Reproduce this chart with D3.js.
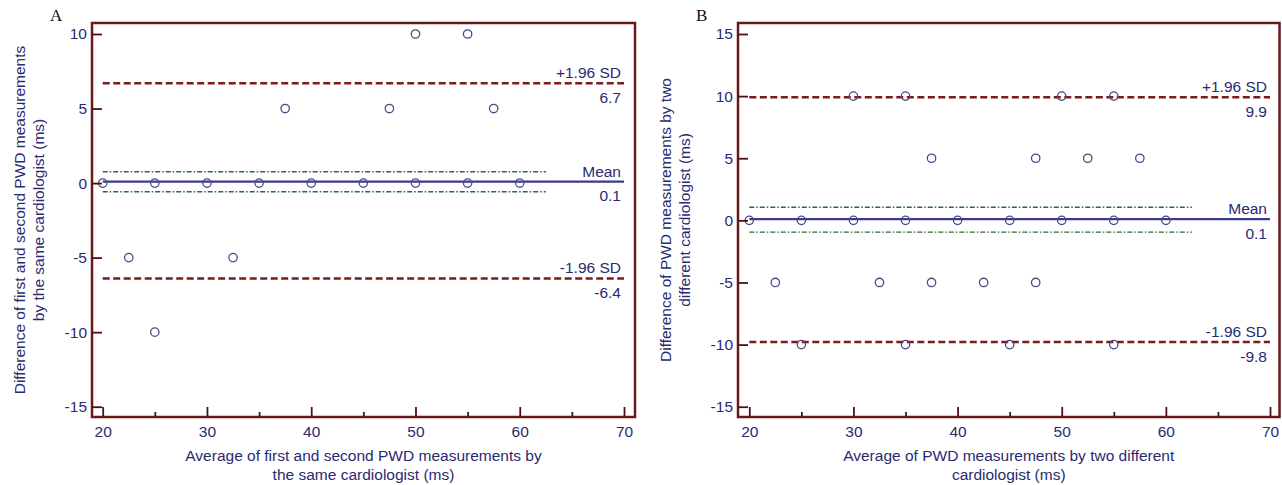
<!DOCTYPE html>
<html><head><meta charset="utf-8">
<script src="https://cdn.jsdelivr.net/npm/d3@7"></script>
<style>body{margin:0;background:#fff}svg{display:block}text{font-family:"Liberation Sans",Arial,sans-serif}</style>
</head><body><svg id="c" width="1282" height="485"></svg>
<script>
// ---- data ----
const xTicks = [20, 30, 40, 50, 60, 70];
const xMinorTicks = [25, 35, 45, 55, 65];
const yTicksA = [10, 5, 0, -5, -10, -15];
const yTicksB = [15, 10, 5, 0, -5, -10, -15];

const meanA = [20, 22.5, 25, 25, 30, 32.5, 35, 37.5, 40, 45, 47.5, 50, 50, 55, 55, 57.5, 60];
const diffA = [0, -5, 0, -10, 0, -5, 0, 5, 0, 0, 5, 10, 0, 10, 0, 5, 0];

const meanB = [20, 22.5, 25, 25, 30, 30, 32.5, 35, 35, 35, 37.5, 37.5, 40, 42.5, 45, 45, 47.5, 47.5, 50, 50, 52.5, 55, 55, 55, 57.5, 60];
const diffB = [0, -5, 0, -10, 0, 10, -5, 0, 10, -10, 5, -5, 0, -5, 0, -10, 5, -5, 0, 10, 5, 0, 10, -10, 5, 0];

const limitNames = ["+1.96 SD", "Mean", "-1.96 SD"];
const limitsA = [6.7, 0.1, -6.4];
const limitsB = [9.9, 0.1, -9.8];
const ciA = [0.76, -0.58];
const ciB = [1.05, -0.95];
const lineSpan = [20, 70];
const ciSpan = [20, 62.5];

const panelLetters = ["A", "B"];
const yTitleA = ["Difference of first and second PWD measurements", "by the same cardiologist (ms)"];
const xTitleA = ["Average of first and second PWD measurements by", "the same cardiologist (ms)"];
const yTitleB = ["Difference of PWD measurements by two", "different cardiologist (ms)"];
const xTitleB = ["Average of PWD measurements by two different", "cardiologist (ms)"];

// ---- drawing ----
const svg = d3.select("#c");
svg.append("rect").attr("width", 1282).attr("height", 485).attr("fill", "#fff");

const NAVY = "#2a2a72";
const FRAME = "#6b1a1a";
const RED = "#7a1c1c";
const BLUE = "#3b3b8e";
const GREEN = "#2f6a2f";
const FS = "15.5px";
const fmtInt = d => String(d);   // plain hyphen minus as in the original

function panel(cfg) {
  const g = svg.append("g");
  const f = cfg.frame;
  const x = d3.scaleLinear().domain([20, 70]).range(cfg.xRange);
  const y = d3.scaleLinear().domain([cfg.yTicks[0], -15]).range([34, 406.7]);

  // panel letter
  g.append("text").attr("x", f.l - 42).attr("y", 21).text(cfg.letter)
    .style("font-family", "'Liberation Serif','Times New Roman',serif").style("font-size", "17px").attr("fill", "#111");

  // limit lines
  const lim = cfg.limits;
  [lim[0], lim[2]].forEach(v => {
    g.append("line").attr("x1", x(lineSpan[0])).attr("x2", x(lineSpan[1]))
      .attr("y1", y(v)).attr("y2", y(v)).attr("stroke", RED).attr("stroke-width", 2.5)
      .attr("stroke-dasharray", "7,3.5");
  });
  cfg.ci.forEach(v => {
    g.append("line").attr("x1", x(ciSpan[0])).attr("x2", x(ciSpan[1]))
      .attr("y1", y(v)).attr("y2", y(v)).attr("stroke", GREEN).attr("stroke-width", 1.4)
      .attr("stroke-dasharray", "5,2,1.5,2");
  });
  g.append("line").attr("x1", x(lineSpan[0])).attr("x2", x(lineSpan[1]))
    .attr("y1", y(lim[1])).attr("y2", y(lim[1])).attr("stroke", BLUE).attr("stroke-width", 2.2);

  // limit labels
  lim.forEach((v, i) => {
    g.append("text").attr("x", x(lineSpan[1]) - 3).attr("y", y(v) - 5)
      .attr("text-anchor", "end").attr("fill", NAVY).style("font-size", FS).text(limitNames[i]);
    g.append("text").attr("x", x(lineSpan[1]) - 3).attr("y", y(v) + 19.5)
      .attr("text-anchor", "end").attr("fill", NAVY).style("font-size", FS).text(v.toFixed(1));
  });

  // points
  g.selectAll("circle.pt").data(cfg.xs.map((d, i) => [d, cfg.ys[i]])).join("circle")
    .attr("class", "pt").attr("cx", d => x(d[0])).attr("cy", d => y(d[1])).attr("r", 4.2)
    .attr("fill", "none").attr("stroke", "#4a4a86").attr("stroke-width", 1.3);

  // frame
  g.append("rect").attr("x", f.l).attr("y", f.t).attr("width", f.r - f.l).attr("height", f.b - f.t)
    .attr("fill", "none").attr("stroke", FRAME).attr("stroke-width", 2.5);

  // axes
  const ay = g.append("g").attr("transform", `translate(${f.l},0)`)
    .call(d3.axisLeft(y).tickValues(cfg.yTicks).tickSize(-10).tickPadding(5).tickFormat(fmtInt));
  const ax = g.append("g").attr("transform", `translate(0,${f.b})`)
    .call(d3.axisBottom(x).tickValues(xTicks).tickSize(-10).tickPadding(9).tickFormat(fmtInt));
  const axm = g.append("g").attr("transform", `translate(0,${f.b})`)
    .call(d3.axisBottom(x).tickValues(xMinorTicks).tickSize(-5).tickFormat(""));
  [ay, ax, axm].forEach(a => {
    a.select(".domain").remove();
    a.selectAll("line").attr("stroke", "#4a1212").attr("stroke-width", 1.8);
    a.selectAll("text").attr("fill", NAVY).style("font-size", FS)
      .style("font-family", "'Liberation Sans',Arial,sans-serif");
  });

  // titles
  const cx = (f.l + f.r) / 2, cy = (f.t + f.b) / 2;
  cfg.xTitle.forEach((t, i) => {
    g.append("text").attr("x", cx).attr("y", 460.5 + i * 19.5).attr("text-anchor", "middle")
      .attr("fill", NAVY).style("font-size", FS).text(t);
  });
  cfg.yTitle.forEach((t, i) => {
    g.append("text").attr("transform", `translate(${f.l - 67 + i * 19},${cy}) rotate(-90)`)
      .attr("text-anchor", "middle").attr("fill", NAVY).style("font-size", FS).text(t);
  });
}

panel({letter: panelLetters[0], frame: {l: 92, t: 23, r: 635, b: 417}, xRange: [102.7, 624],
  yTicks: yTicksA, xs: meanA, ys: diffA, limits: limitsA, ci: ciA, xTitle: xTitleA, yTitle: yTitleA});
panel({letter: panelLetters[1], frame: {l: 738, t: 23, r: 1279.5, b: 417}, xRange: [749.3, 1270],
  yTicks: yTicksB, xs: meanB, ys: diffB, limits: limitsB, ci: ciB, xTitle: xTitleB, yTitle: yTitleB});
</script></body></html>
